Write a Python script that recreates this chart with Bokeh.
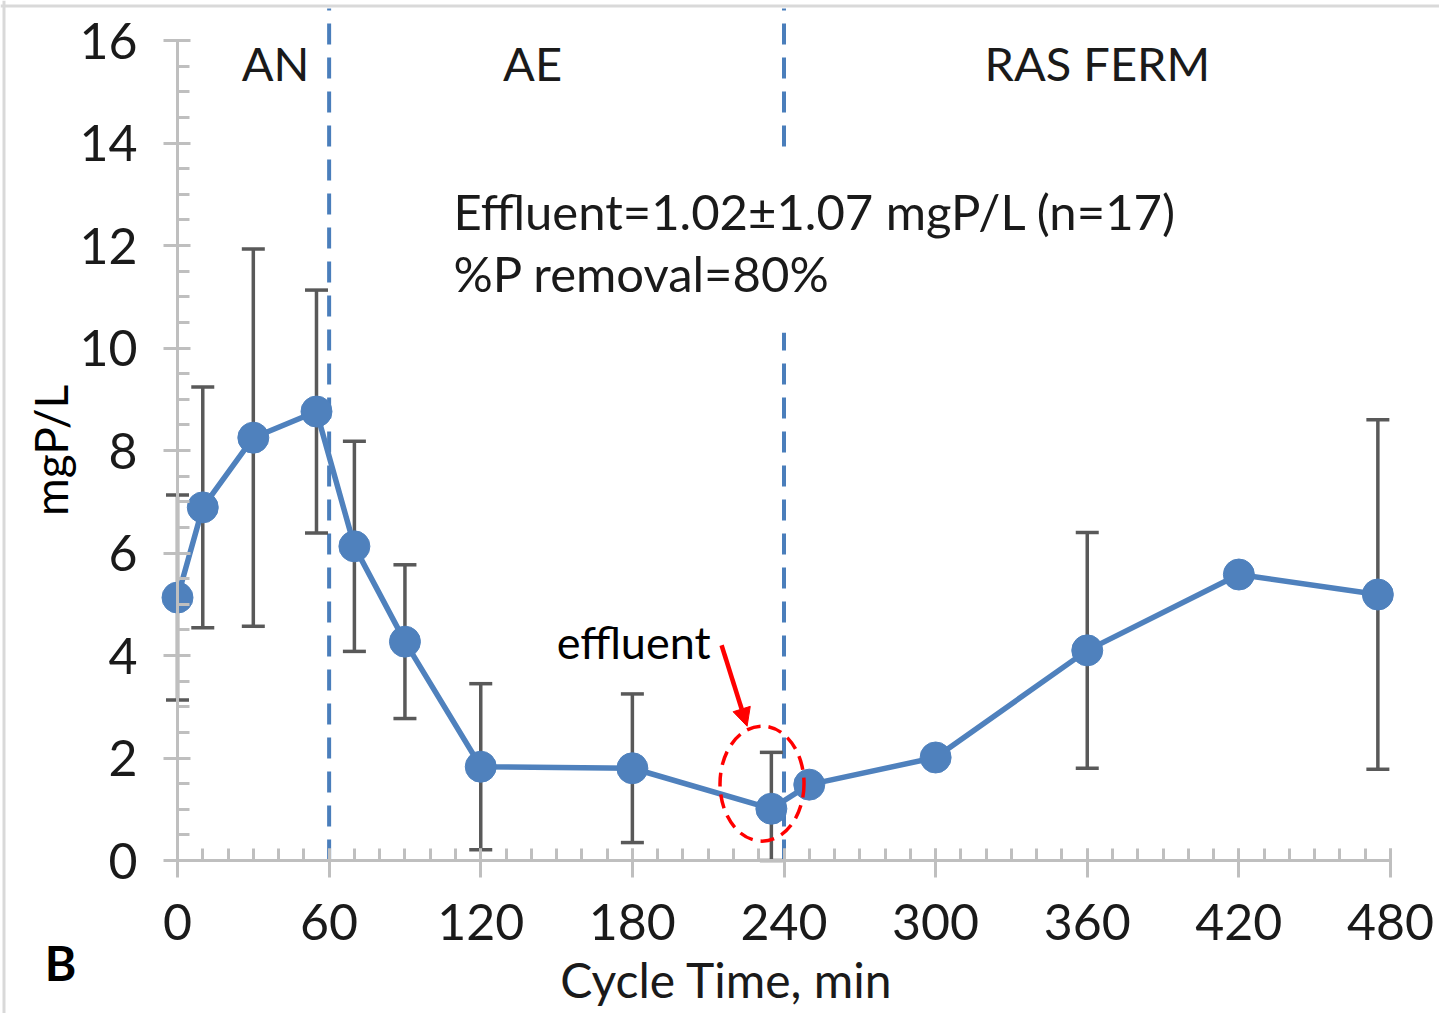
from bokeh.plotting import figure
from bokeh.models import FixedTicker, Label, Arrow, NormalHead, ColumnDataSource, LinearAxis, Span
from bokeh.embed import file_html
from bokeh.resources import INLINE

# ---- data ----
cycle_time = [0, 10, 30, 55, 70, 90, 120, 180, 235, 250, 300, 360, 420, 475]
mean_p = [5.13, 6.89, 8.25, 8.76, 6.13, 4.27, 1.83, 1.80, 1.01, 1.48, 2.01, 4.10, 5.58, 5.19]
sd_p = [2.00, 2.35, 3.68, 2.37, 2.05, 1.50, 1.62, 1.45, 1.10, 0.0, 0.0, 2.30, 0.0, 3.41]
phase_bounds = [60, 240]
phase_names = ["AN", "AE", "RAS FERM"]
phase_label_x = [38.8, 140.5, 364.0]
x_ticks = [0, 60, 120, 180, 240, 300, 360, 420, 480]
y_ticks = [0, 2, 4, 6, 8, 10, 12, 14, 16]
effluent_text = ["Effluent=1.02\u00b11.07 mgP/L (n=17)", "%P removal=80%"]

FONT = "Lato"
BLUE = "#4f81bd"
GREY = "#595959"
AXIS = "#bfbfbf"
W, H = 1439, 1013
X0_PX, X_PER = 177.0, 1213.0 / 480.0     # screen position of x=0 and px per minute
Y0_PX, Y_PER = 860.0, 820.0 / 16.0       # screen position of y=0 and px per mgP/L
x_lo, x_hi = -X0_PX / X_PER, (W - X0_PX) / X_PER
y_hi, y_lo = Y0_PX / Y_PER, (Y0_PX - H) / Y_PER

p = figure(width=W, height=H, output_backend="svg", toolbar_location=None,
           x_range=(x_lo, x_hi), y_range=(y_lo, y_hi),
           x_axis_location=None, y_axis_location=None,
           min_border=0, min_border_left=0, min_border_right=0,
           min_border_top=0, min_border_bottom=0)
p.grid.visible = False
p.outline_line_color = None
p.background_fill_color = "white"
p.border_fill_color = "white"

# light chart-area border (left and top edges)
p.add_layout(Span(location=x_lo + 3.5 / X_PER, dimension="height", line_color="#d9d9d9", line_width=3))
p.add_layout(Span(location=y_hi - 5.5 / Y_PER, dimension="width", line_color="#d9d9d9", line_width=3))

xax = LinearAxis(fixed_location=0, bounds=(0, 480))
yax = LinearAxis(fixed_location=0, bounds=(0, 16))
p.add_layout(xax, "below")
p.add_layout(yax, "left")

for ax in (xax, yax):
    ax.axis_line_color = AXIS
    ax.axis_line_width = 3
    ax.major_tick_line_color = AXIS
    ax.major_tick_line_width = 3
    ax.minor_tick_line_color = AXIS
    ax.minor_tick_line_width = 3
    ax.minor_tick_in = 12
    ax.minor_tick_out = 0
    ax.major_label_text_font = FONT
    ax.major_label_text_font_size = "50px"
    ax.major_label_text_color = "#1a1a1a"
    ax.major_label_standoff = 26

xax.ticker = FixedTicker(ticks=x_ticks, minor_ticks=list(range(0, 481, 10)))
xax.major_tick_in = 12
xax.major_tick_out = 17
yax.ticker = FixedTicker(ticks=y_ticks, minor_ticks=[i * 0.5 for i in range(0, 33)])
yax.major_tick_in = 13
yax.major_tick_out = 14

# phase divider lines
p.segment(x0=phase_bounds, y0=[0, 0], x1=phase_bounds, y1=[y_hi - 8 / Y_PER] * 2,
          line_color="#4a7ebb", line_width=4, line_dash="21 13")

# white text box behind the summary text (hides the divider line)
p.quad(left=[104], right=[398], top=[13.75], bottom=[10.3], fill_color="white", line_color=None)

# error bars
idx = [i for i, s in enumerate(sd_p) if s > 0]
eb = ColumnDataSource(dict(
    x=[cycle_time[i] for i in idx],
    lo=[max(0.0, mean_p[i] - sd_p[i]) for i in idx],
    hi=[mean_p[i] + sd_p[i] for i in idx],
))
p.segment(x0="x", y0="lo", x1="x", y1="hi", source=eb, line_color=GREY, line_width=3.5)
p.scatter(x="x", y="lo", source=eb, marker="dash", size=23, line_color=GREY, line_width=3.5)
p.scatter(x="x", y="hi", source=eb, marker="dash", size=23, line_color=GREY, line_width=3.5)

# series
src = ColumnDataSource(dict(t=cycle_time, m=mean_p))
p.line(x="t", y="m", source=src, line_color=BLUE, line_width=5.5)
p.scatter(x="t", y="m", source=src, size=31, fill_color=BLUE, line_color=BLUE)

# effluent highlight
p.ellipse(x=[231.3], y=[1.5], width=84, height=115, width_units="screen", height_units="screen",
          fill_color=None, line_color="#ff0000", line_width=3.5, line_dash="14 8")
p.add_layout(Arrow(x_start=215.3, y_start=4.2, x_end=225.4, y_end=2.62,
                   line_color="#ff0000", line_width=4.5,
                   end=NormalHead(size=18, fill_color="#ff0000", line_color="#ff0000")))
p.add_layout(Label(x=180.5, y=4.27, text="effluent", text_align="center", text_baseline="middle",
                   text_font=FONT, text_font_size="45px", text_color="black"))

# phase names
for name, lx in zip(phase_names, phase_label_x):
    p.add_layout(Label(x=lx, y=15.57, text=name, text_align="center", text_baseline="middle",
                       text_font=FONT, text_font_size="47px", text_color="#1a1a1a"))

# summary text
for txt, ly in zip(effluent_text, [12.68, 11.47]):
    p.add_layout(Label(x=109.2, y=ly, text=txt, text_align="left", text_baseline="middle",
                       text_font=FONT, text_font_size="49px", text_color="#1a1a1a"))

# axis titles and panel letter
p.add_layout(Label(x=-50.3, y=8.0, text="mgP/L", angle=90, angle_units="deg",
                   text_align="center", text_baseline="middle",
                   text_font=FONT, text_font_size="46px", text_color="black"))
p.add_layout(Label(x=217.3, y=-2.33, text="Cycle Time, min", text_align="center", text_baseline="middle",
                   text_font=FONT, text_font_size="48px", text_color="#1a1a1a"))
p.add_layout(Label(x=-46.3, y=-1.99, text="B", text_align="center", text_baseline="middle",
                   text_font=FONT, text_font_size="48px", text_font_style="bold", text_color="black"))

open("out.html", "w").write(file_html(p, INLINE))
